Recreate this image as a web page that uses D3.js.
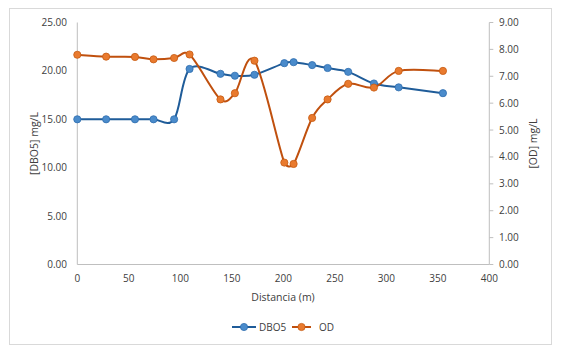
<!DOCTYPE html>
<html><head><meta charset="utf-8">
<script src="https://cdn.jsdelivr.net/npm/d3@7"></script>
<style>body{margin:0;background:#fff}svg{display:block}text{font-family:"Open Sans",sans-serif;fill:#404040}</style>
</head><body>
<script>
const distancia = [0, 28, 56, 74, 94, 109, 139, 153, 172, 201, 210, 228, 243, 263, 288, 312, 355];
const dbo5 = [15.0, 15.0, 15.0, 15.0, 15.0, 20.2, 19.7, 19.5, 19.6, 20.8, 20.9, 20.6, 20.3, 19.9, 18.7, 18.3, 17.7];
const od = [7.80, 7.73, 7.72, 7.63, 7.68, 7.81, 6.14, 6.37, 7.58, 3.79, 3.74, 5.45, 6.14, 6.72, 6.58, 7.20, 7.20];
const xTicks = [0, 50, 100, 150, 200, 250, 300, 350, 400];
const leftTicks = [0, 5, 10, 15, 20, 25];
const rightTicks = [0, 1, 2, 3, 4, 5, 6, 7, 8, 9];

const W = 567, H = 349;
const svg = d3.select("body").append("svg").attr("width", W).attr("height", H);
svg.append("rect").attr("x", 9.5).attr("y", 8.5).attr("width", 542).attr("height", 336)
  .attr("fill", "#fff").attr("stroke", "#D9D9D9");

const L = 77.3, R = 489.3, T = 22.5, B = 264.5;
const x = d3.scaleLinear().domain([0, 400]).range([L, R]);
const yL = d3.scaleLinear().domain([0, 25]).range([B, T]);
const yR = d3.scaleLinear().domain([0, 9]).range([B, T]);
const axisCol = "#BFBFBF";

svg.append("line").attr("x1", L).attr("x2", L).attr("y1", T).attr("y2", B).attr("stroke", axisCol);
svg.append("line").attr("x1", R).attr("x2", R).attr("y1", T).attr("y2", B).attr("stroke", axisCol);
svg.append("line").attr("x1", L).attr("x2", R).attr("y1", B).attr("y2", B).attr("stroke", axisCol);

const fs = 10;
svg.append("g").selectAll("text").data(leftTicks).join("text")
  .attr("x", 67).attr("y", d => yL(d)).attr("dy", "0.35em").attr("text-anchor", "end")
  .attr("font-size", fs).text(d => d3.format(".2f")(d));
svg.append("g").selectAll("line").data(rightTicks).join("line")
  .attr("x1", R).attr("x2", R + 4).attr("y1", d => yR(d)).attr("y2", d => yR(d)).attr("stroke", axisCol);
svg.append("g").selectAll("text").data(rightTicks).join("text")
  .attr("x", 499).attr("y", d => yR(d)).attr("dy", "0.35em").attr("text-anchor", "start")
  .attr("font-size", fs).text(d => d3.format(".2f")(d));
svg.append("g").selectAll("text").data(xTicks).join("text")
  .attr("x", d => x(d)).attr("y", 278).attr("dy", "0.35em").attr("text-anchor", "middle")
  .attr("font-size", fs).text(d => d);

svg.append("text").attr("x", 283).attr("y", 297).attr("dy", "0.35em").attr("text-anchor", "middle")
  .attr("font-size", 10.5).text("Distancia (m)");
svg.append("text").attr("transform", `translate(34,${(T + B) / 2}) rotate(-90)`).attr("dy", "0.35em")
  .attr("text-anchor", "middle").attr("font-size", 10.5).text("[DBO5] mg/L");
svg.append("text").attr("transform", `translate(533,${(T + B) / 2}) rotate(-90)`).attr("dy", "0.35em")
  .attr("text-anchor", "middle").attr("font-size", 10.5).text("[OD] mg/L");

// Excel-like smoothed line: Bezier with 1/6 tangent arms, clamped to half the segment length
function smoothPath(p) {
  const path = d3.path();
  const n = p.length;
  path.moveTo(p[0][0], p[0][1]);
  const dist = (a, b) => Math.hypot(b[0] - a[0], b[1] - a[1]);
  for (let i = 0; i < n - 1; i++) {
    const p0 = p[Math.max(i - 1, 0)], p1 = p[i], p2 = p[i + 1], p3 = p[Math.min(i + 2, n - 1)];
    const seg = dist(p1, p2);
    let a1 = [(p2[0] - p0[0]) / 6, (p2[1] - p0[1]) / 6];
    let a2 = [(p3[0] - p1[0]) / 6, (p3[1] - p1[1]) / 6];
    const l1 = Math.hypot(a1[0], a1[1]), l2 = Math.hypot(a2[0], a2[1]);
    if (l1 > seg / 2) { a1 = [a1[0] * seg / 2 / l1, a1[1] * seg / 2 / l1]; }
    if (l2 > seg / 2) { a2 = [a2[0] * seg / 2 / l2, a2[1] * seg / 2 / l2]; }
    path.bezierCurveTo(p1[0] + a1[0], p1[1] + a1[1], p2[0] - a2[0], p2[1] - a2[1], p2[0], p2[1]);
  }
  return path.toString();
}

const series = [
  {name: "DBO5", vals: dbo5, y: yL, line: "#1F5C99", fill: "#4A8BCB", stroke: "#2E6DAE"},
  {name: "OD", vals: od, y: yR, line: "#C0500E", fill: "#E97A2E", stroke: "#C55A11"}
];
series.forEach(s => {
  const pts = distancia.map((d, i) => [d, s.vals[i]]);
  const px = pts.map(d => [x(d[0]), s.y(d[1])]);
  svg.append("path").attr("fill", "none").attr("stroke", s.line).attr("stroke-width", 2)
    .attr("d", smoothPath(px));
  svg.append("g").selectAll("circle").data(pts).join("circle")
    .attr("cx", d => x(d[0])).attr("cy", d => s.y(d[1])).attr("r", 3.6)
    .attr("fill", s.fill).attr("stroke", s.stroke).attr("stroke-width", 0.8);
});

const leg = [{s: series[0], x1: 232, x2: 256, tx: 259}, {s: series[1], x1: 292, x2: 311, tx: 319}];
leg.forEach(l => {
  const g = svg.append("g");
  g.append("line").attr("x1", l.x1).attr("x2", l.x2).attr("y1", 327).attr("y2", 327)
    .attr("stroke", l.s.line).attr("stroke-width", 2);
  g.append("circle").attr("cx", (l.x1 + l.x2) / 2).attr("cy", 327).attr("r", 3.6)
    .attr("fill", l.s.fill).attr("stroke", l.s.stroke).attr("stroke-width", 0.8);
  g.append("text").attr("x", l.tx).attr("y", 327).attr("dy", "0.35em").attr("font-size", 10).text(l.s.name);
});
</script>
</body></html>
